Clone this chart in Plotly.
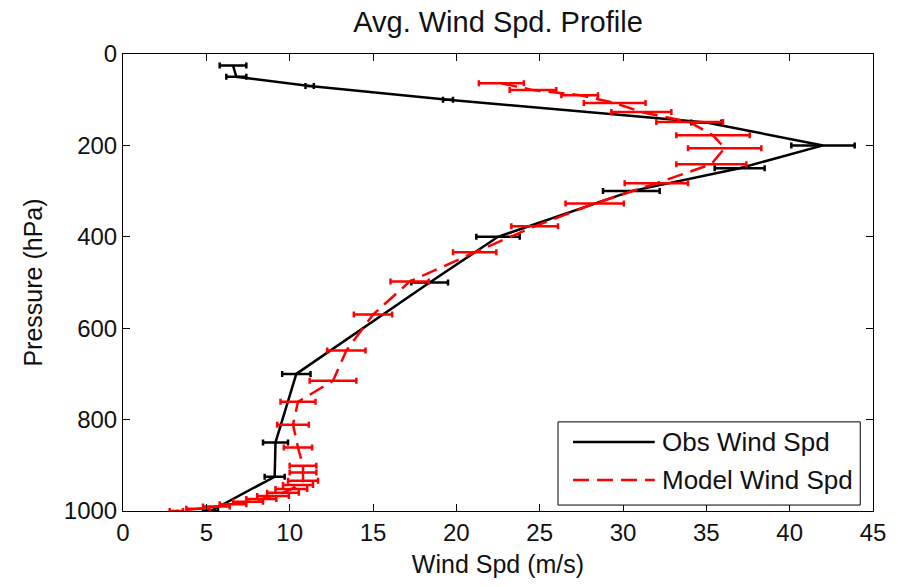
import plotly.graph_objects as go

# ---------------- data ----------------
obs_p = [25, 50, 70, 100, 150, 200, 250, 300, 400, 500, 700, 850, 925, 1000]
obs_spd = [6.6, 6.8, 11.2, 19.5, 35.0, 42.0, 37.0, 30.5, 22.5, 18.4, 10.4, 9.15, 9.1, 5.25]
obs_err = [0.8, 0.6, 0.25, 0.3, 0.9, 1.9, 1.5, 1.7, 1.3, 1.1, 0.85, 0.75, 0.6, 0.45]

mod_p = [64, 79, 90, 107, 127, 149, 178, 206, 241, 283, 327, 377, 434, 498, 570,
         649, 715, 761, 811, 861, 901, 916, 934, 943, 952, 960, 967, 974, 980,
         985, 990, 995, 1000]
mod_spd = [22.7, 24.6, 27.4, 29.5, 31.1, 34.0, 35.4, 36.1, 35.3, 32.0, 28.3, 24.7, 21.1, 17.2, 15.0,
           13.4, 12.6, 10.5, 10.2, 10.5, 10.8, 10.8, 10.8, 10.5, 10.1, 9.6, 9.0, 8.3, 7.5,
           6.6, 5.6, 4.5, 3.2]
mod_err = [1.35, 1.4, 1.1, 1.85, 1.8, 2.0, 2.2, 2.2, 2.1, 1.9, 1.75, 1.4, 1.3, 1.15, 1.15,
           1.15, 1.4, 1.05, 0.95, 0.85, 0.8, 0.8, 0.9, 0.9, 0.95, 0.95, 0.95, 0.9, 0.9,
           0.8, 0.8, 0.7, 0.4]

x_ticks = [0, 5, 10, 15, 20, 25, 30, 35, 40, 45]
y_ticks = [0, 200, 400, 600, 800, 1000]

title_text = "Avg. Wind Spd. Profile"
x_title = "Wind Spd (m/s)"
y_title = "Pressure (hPa)"
names = ["Obs Wind Spd", "Model Wind Spd"]

FONT = "Liberation Sans, Arial, sans-serif"

fig = go.Figure()
fig.add_trace(go.Scatter(
    x=obs_spd, y=obs_p, mode="lines", name=names[0],
    line=dict(color="black", width=2.5),
    error_x=dict(type="data", array=obs_err, visible=True, color="black",
                 thickness=2.5, width=3),
))
fig.add_trace(go.Scatter(
    x=mod_spd, y=mod_p, mode="lines", name=names[1],
    line=dict(color="#ff0000", width=2.5, dash="16px,8px"),
    error_x=dict(type="data", array=mod_err, visible=True, color="#ff0000",
                 thickness=2.5, width=3),
))

axis_common = dict(
    showline=True, linecolor="black", linewidth=1, mirror="ticks",
    ticks="inside", ticklen=7, tickcolor="black", tickwidth=1,
    showgrid=False, zeroline=False,
    tickfont=dict(family=FONT, size=24, color="#111111"),
)
fig.update_xaxes(range=[0, 45], tickvals=x_ticks, ticktext=[str(v) for v in x_ticks],
                 title=dict(text=x_title, font=dict(family=FONT, size=25, color="#111111"), standoff=10),
                 **axis_common)
fig.update_yaxes(range=[1000, 0], tickvals=y_ticks, ticktext=[str(v) for v in y_ticks],
                 title=dict(text=y_title, font=dict(family=FONT, size=25, color="#111111"), standoff=14),
                 **axis_common)

# MATLAB-style legend box
lx0, lx1, ly0, ly1 = 0.580, 0.983, 0.013, 0.195
fig.add_shape(type="rect", xref="paper", yref="paper", x0=lx0, x1=lx1, y0=ly0, y1=ly1,
              line=dict(color="black", width=1), fillcolor="white", layer="above")
fig.add_shape(type="line", xref="paper", yref="paper", x0=0.600, x1=0.709, y0=0.151, y1=0.151,
              line=dict(color="black", width=2.5), layer="above")
fig.add_shape(type="line", xref="paper", yref="paper", x0=0.600, x1=0.709, y0=0.068, y1=0.068,
              line=dict(color="#ff0000", width=2.5, dash="16px,8px"), layer="above")
for yy, nm in zip([0.151, 0.068], names):
    fig.add_annotation(xref="paper", yref="paper", x=0.716, y=yy, text=nm, showarrow=False,
                       xanchor="left", yanchor="middle",
                       font=dict(family=FONT, size=26, color="#111111"))

fig.update_layout(
    width=898, height=587,
    margin=dict(l=123, r=22, t=54, b=76),
    paper_bgcolor="white", plot_bgcolor="white",
    showlegend=False,
    title=dict(text=title_text, x=0.5, xref="paper", xanchor="center",
               y=1 - 22 / 587, yref="container", yanchor="middle",
               font=dict(family=FONT, size=29, color="#111111")),
)

fig.write_html("out.html")
